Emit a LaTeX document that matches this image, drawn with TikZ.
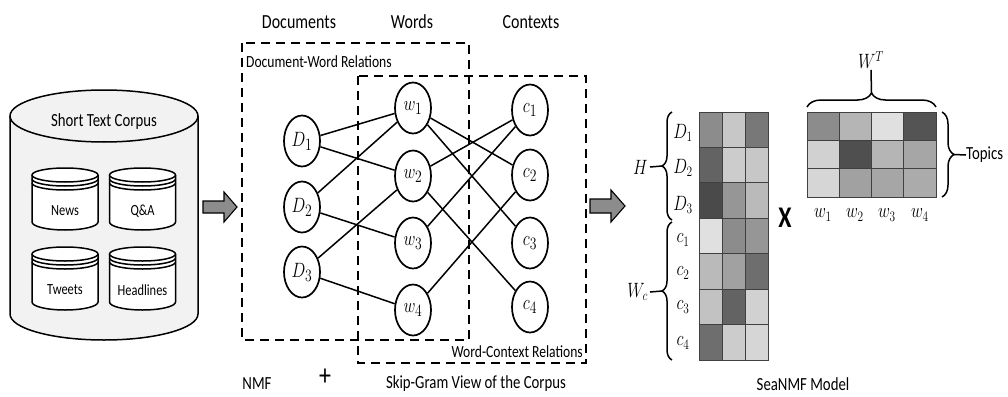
\documentclass[tikz,border=0pt]{standalone}
\usepackage{fontspec}
\usepackage{graphicx}
\setmainfont{Carlito}[FakeStretch=0.8]
\usetikzlibrary{shapes.geometric,decorations.pathreplacing}
\newcommand\fsz[1]{\fontsize{#1}{#1}\selectfont}
\newcommand\mt[1]{\scalebox{0.95}[1.2]{$#1$}}
\definecolor{cylfill}{gray}{0.95}
\definecolor{arrowgray}{gray}{0.55}
\definecolor{gridc}{gray}{0.25}
\tikzset{
  vtx/.style={ellipse, draw, line width=1.7pt, minimum width=36pt, minimum height=51pt, inner sep=0pt, font=\fsz{19}},
  link/.style={line width=1.5pt},
  dbox/.style={line width=2.5pt, dash pattern=on 9pt off 6pt},
  title/.style={font=\fsz{20}, inner sep=0pt},
  lbl/.style={font=\fsz{18.5}, inner sep=0pt},
  small/.style={font=\fsz{15.5}, inner sep=0pt},
  rel/.style={font=\fsz{17}, inner sep=0pt},
  mlbl/.style={font=\fsz{18}, inner sep=1pt},
  brc/.style={decorate, decoration={brace, amplitude=#1}, line width=1.5pt},
  cyl/.style={line width=1.5pt},
  cell/.style={draw=gridc, line width=0.8pt},
}
\newcommand\smallcyl[3]{%
  \draw[cyl, fill=white] (#1-33,-#2) -- (#1-33,-#3) arc[start angle=180,end angle=360,x radius=33,y radius=8] -- (#1+33,-#2);
  \draw[cyl, fill=white] (#1,-#2) ellipse[x radius=33,y radius=7];
  \draw[cyl] (#1-33,-#2-4) arc[start angle=180,end angle=360,x radius=33,y radius=7];
  \draw[cyl] (#1-33,-#2-8) arc[start angle=180,end angle=360,x radius=33,y radius=7];
}
\begin{document}
\begin{tikzpicture}[x=1pt,y=1pt]
\useasboundingbox (0,0) rectangle (1008,-396);
% big cylinder
\draw[cyl, fill=cylfill] (10,-116) -- (10,-314) arc[start angle=180,end angle=360,x radius=94,y radius=26] -- (198,-116);
\draw[cyl, fill=cylfill] (104,-116) ellipse[x radius=94, y radius=26];
\node[lbl] (corpus) at (104,-122) {Short Text Corpus};
\smallcyl{65}{175}{222}
\smallcyl{142.5}{175}{222}
\smallcyl{65}{254}{302}
\smallcyl{142.5}{254}{302}
\node[small] (news) at (65,-211) {News};
\node[small] (qa) at (142.5,-211) {Q\&A};
\node[small] (tweets) at (65,-290) {Tweets};
\node[small] (headl) at (142.5,-290) {Headlines};
% arrows
\draw[line width=1.1pt, fill=arrowgray] (203,-201) -- (224,-201) -- (224,-192) -- (237,-207) -- (224,-222) -- (224,-213) -- (203,-213) -- cycle;
\draw[line width=1.1pt, fill=arrowgray] (590,-199) -- (611,-199) -- (611,-190) -- (625,-206) -- (611,-222) -- (611,-213) -- (590,-213) -- cycle;
% titles
\node[title] (tDoc) at (299,-22) {Documents};
\node[title] (tWords) at (412,-22) {Words};
\node[title] (tCtx) at (531,-22) {Contexts};
% dashed boxes
\draw[dbox] (242,-43) rectangle (469,-340);
\draw[dbox] (358,-76) rectangle (586,-363);
\node[rel, anchor=west] (dwr) at (246,-62) {Document-Word Relations};
\node[rel, anchor=east] (wcr) at (583,-352) {Word-Context Relations};
% vertices
\node[vtx] (D1) at (302,-141) {\mt{D_1}};
\node[vtx] (D2) at (302,-207) {\mt{D_2}};
\node[vtx] (D3) at (302,-272) {\mt{D_3}};
\node[vtx] (w1) at (413,-108) {\mt{w_1}};
\node[vtx] (w2) at (413,-176) {\mt{w_2}};
\node[vtx] (w3) at (413,-243) {\mt{w_3}};
\node[vtx] (w4) at (413,-310) {\mt{w_4}};
\node[vtx] (c1) at (530,-110) {\mt{c_1}};
\node[vtx] (c2) at (530,-175) {\mt{c_2}};
\node[vtx] (c3) at (530,-243) {\mt{c_3}};
\node[vtx] (c4) at (530,-307) {\mt{c_4}};
\draw[link] (D1) -- (w1);
\draw[link] (D1) -- (w2);
\draw[link] (D2) -- (w1);
\draw[link] (D2) -- (w3);
\draw[link] (D3) -- (w2);
\draw[link] (D3) -- (w4);
\draw[link] (w1) -- (c2);
\draw[link] (w1) -- (c3);
\draw[link] (w2) -- (c1);
\draw[link] (w2) -- (c4);
\draw[link] (w3) -- (c1);
\draw[link] (w4) -- (c2);
% left matrix
\foreach \row [count=\r from 0] in {{45,22,53},{61,20,22},{71,41,27},{12,45,41},{27,37,57},{24,61,18},{57,20,16}} {
  \foreach \v [count=\c from 0] in \row {
    \filldraw[cell, fill=black!\v] (699+23*\c,-112-35.43*\r) rectangle ++(23,-35.43);
  }
}
% right matrix
\foreach \row [count=\r from 0] in {{45,29,12,67},{18,69,29,35},{16,37,35,33}} {
  \foreach \v [count=\c from 0] in \row {
    \filldraw[cell, fill=black!\v] (807+32.25*\c,-112-28.33*\r) rectangle ++(32.25,-28.33);
  }
}
% row labels
\node[mlbl] (rD1) at (683,-133) {\mt{D_1}};
\node[mlbl] (rD2) at (683,-168) {\mt{D_2}};
\node[mlbl] (rD3) at (683,-205) {\mt{D_3}};
\node[mlbl] (rc1) at (683,-240) {\mt{c_1}};
\node[mlbl] (rc2) at (683,-273) {\mt{c_2}};
\node[mlbl] (rc3) at (683,-307) {\mt{c_3}};
\node[mlbl] (rc4) at (683,-343) {\mt{c_4}};
% braces
\draw[brc=10] (672,-220) -- (672,-112);
\draw[brc=10] (672,-360) -- (672,-222);
\coordinate (Htip) at (662,-166);
\coordinate (Wtip) at (662,-291);
\node[mlbl, anchor=east] (H) at (649,-167) {\mt{H}};
\node[mlbl, anchor=east] (Wc) at (649,-292) {\mt{W_c}};
\draw[line width=1.5pt] (H.east) ++(1,0) -- (Htip);
\draw[line width=1.5pt] (Wc.east) ++(1,0) -- (Wtip);
\node[font=\fsz{30}, inner sep=0pt] (times) at (785,-218) {\textbf{X}};
% top brace
\draw[brc=14] (807,-107) -- (936,-107);
\coordinate (WTtip) at (871.5,-93);
\node[mlbl] (WT) at (871,-60) {\mt{W^T}};
\draw[line width=1.5pt] (WT.south) -- (WTtip);
% right brace
\draw[brc=12] (942,-112) -- (942,-197);
\coordinate (Ttip) at (954,-154.5);
\node[lbl, anchor=west] (topics) at (966,-155) {Topics};
\draw[line width=1.5pt] (Ttip) -- (topics.west);
% column labels
\node[mlbl] (cw1) at (823,-215) {\mt{w_1}};
\node[mlbl] (cw2) at (855,-215) {\mt{w_2}};
\node[mlbl] (cw3) at (887,-215) {\mt{w_3}};
\node[mlbl] (cw4) at (920,-215) {\mt{w_4}};
% bottom labels
\node[lbl] (nmf) at (257,-384) {NMF};
\node[font=\fsz{30}, inner sep=0pt] (plus) at (325,-377) {+};
\node[lbl] (skip) at (476,-384) {Skip-Gram View of the Corpus};
\node[lbl] (sea) at (803,-384) {SeaNMF Model};
\end{tikzpicture}
\end{document}
